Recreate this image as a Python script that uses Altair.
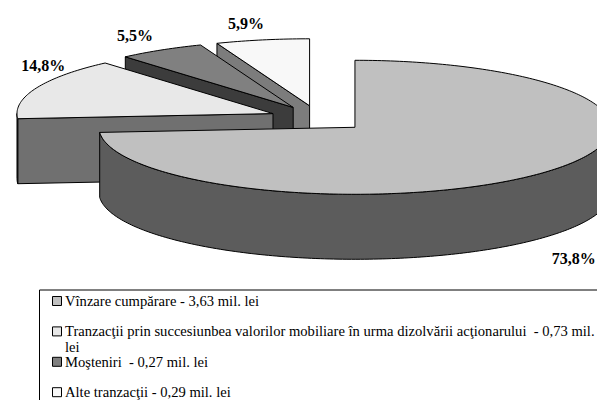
import math
import numpy as np
import pandas as pd
import altair as alt

# ---------------- data ----------------
categories = [
    "Vînzare cumpărare",
    "Tranzacţii prin succesiunbea valorilor mobiliare în urma dizolvării acţionarului",
    "Moşteniri",
    "Alte tranzacţii",
]
values_mil_lei = [3.63, 0.73, 0.27, 0.29]
legend_labels = [
    "Vînzare cumpărare - 3,63 mil. lei",
    "Tranzacţii prin succesiunbea valorilor mobiliare în urma dizolvării acţionarului \u00a0- 0,73 mil.\nlei",
    "Moşteniri \u00a0- 0,27 mil. lei",
    "Alte tranzacţii - 0,29 mil. lei",
]

# ---------------- style ----------------
top_colors = ["#c0c0c0", "#e8e8e8", "#808080", "#f8f8f8"]
side_colors = ["#5c5c5c", "#707070", "#3c3c3c", "#7c7c7c"]
CX, CY = 318.7, 118.5      # pie centre (pixels)
RX, RY = 256.0, 67.0       # ellipse radii
DEPTH = 65.0               # thickness of the pie
EXPLODE = 0.193            # explosion as a fraction of the radius
label_nudge = [(31.0, 21.0), (7.0, -22.0), (-26.0, -14.0), (-16.5, -16.0)]
FONT = "'Liberation Serif', 'Times New Roman', Tinos, 'DejaVu Serif', serif"

W, H = 589, 392

# ---------------- geometry ----------------
total = sum(values_mil_lei)
fracs = [v / total for v in values_mil_lei]
starts, ends = [], []
acc = 0.0
for f in fracs:
    starts.append(acc * 360.0)
    acc += f
    ends.append(acc * 360.0)
mids = [(a + b) / 2 for a, b in zip(starts, ends)]


def pt(c, deg, dy=0.0):
    t = math.radians(deg)
    return (c[0] + RX * math.sin(t), c[1] - RY * math.cos(t) + dy)


def arc(c, a, b, dy=0.0):
    n = max(2, int(math.ceil(abs(b - a))) + 1)
    return [pt(c, d, dy) for d in np.linspace(a, b, n)]


pieces = []  # (id, fill, points)
order = sorted(range(len(values_mil_lei)), key=lambda k: -math.cos(math.radians(mids[k])))
label_rows = []
for k in order:
    t1, t2, tm = starts[k], ends[k], mids[k]
    c = (CX + EXPLODE * RX * math.sin(math.radians(tm)),
         CY - EXPLODE * RY * math.cos(math.radians(tm)))
    cd = (c[0], c[1] + DEPTH)
    # radial faces
    if math.cos(math.radians(t1 - 90)) < -1e-6:
        p, pd_ = pt(c, t1), pt(c, t1, DEPTH)
        pieces.append((f"s{k}_start", side_colors[k], [c, p, pd_, cd, c]))
    if math.cos(math.radians(t2 + 90)) < -1e-6:
        p, pd_ = pt(c, t2), pt(c, t2, DEPTH)
        pieces.append((f"s{k}_end", side_colors[k], [c, p, pd_, cd, c]))
    # outer wall (front half only)
    a, b = max(t1, 90.0), min(t2, 270.0)
    if b > a:
        wall = arc(c, a, b) + arc(c, b, a, DEPTH)
        wall.append(wall[0])
        pieces.append((f"s{k}_wall", side_colors[k], wall))
    # top face
    top = [c] + arc(c, t1, t2) + [c]
    pieces.append((f"s{k}_top", top_colors[k], top))
    # percentage label
    ox, oy = pt(c, tm)
    if math.cos(math.radians(tm)) < 0:
        oy += DEPTH
    label_rows.append({
        "x": ox + label_nudge[k][0],
        "y": oy + label_nudge[k][1],
        "text": f"{fracs[k] * 100:.1f}".replace(".", ",") + "%",
    })

xs = alt.Scale(domain=[8, 8 + W], nice=False, zero=False)
ys = alt.Scale(domain=[8, 8 + H], nice=False, zero=False, reverse=True)

layers = []
for pid, color, pts in pieces:
    df = pd.DataFrame({"i": list(range(len(pts))),
                       "x": [p[0] for p in pts],
                       "y": [p[1] for p in pts]})
    layers.append(
        alt.Chart(df).mark_line(fill=color, stroke="black", strokeWidth=1,
                                strokeJoin="round", clip=True).encode(
            x=alt.X("x:Q", scale=xs, axis=None),
            y=alt.Y("y:Q", scale=ys, axis=None),
            order="i:Q",
        )
    )

labels = alt.Chart(pd.DataFrame(label_rows)).mark_text(
    font=FONT, fontSize=16, fontWeight="bold", color="black"
).encode(
    x=alt.X("x:Q", scale=xs, axis=None),
    y=alt.Y("y:Q", scale=ys, axis=None),
    text="text:N",
)

# ---------------- legend ----------------
LEG_Y0, LEG_STEP = 301.0, 30.4
leg_df = pd.DataFrame({
    "cat": categories,
    "label": legend_labels,
    "row": list(range(len(categories))),
})
leg_base = alt.Chart(leg_df).transform_calculate(
    yc=f"{LEG_Y0} + datum.row * {LEG_STEP}",
    yb=f"{LEG_Y0} + 5 + datum.row * {LEG_STEP}",
)
leg_squares = leg_base.mark_square(size=81, stroke="black", strokeWidth=1, opacity=1).encode(
    x=alt.X("sx:Q", scale=xs, axis=None),
    y=alt.Y("yc:Q", scale=ys, axis=None),
    fill=alt.Fill("cat:N", scale=alt.Scale(domain=categories, range=top_colors), legend=None),
).transform_calculate(sx="57")
leg_text = leg_base.mark_text(
    font=FONT, fontSize=14.6, color="black", align="left", baseline="alphabetic",
    lineBreak="\n", lineHeight=16,
).encode(
    x=alt.X("tx:Q", scale=xs, axis=None),
    y=alt.Y("yb:Q", scale=ys, axis=None),
    text="label:N",
).transform_calculate(tx="65")
leg_frame = alt.Chart(pd.DataFrame({"a": [0]})).mark_rect(
    fill=None, stroke="black", strokeWidth=1
).encode(
    x=alt.value(31.5), x2=alt.value(700), y=alt.value(282), y2=alt.value(500)
)

chart = alt.layer(*layers, labels, leg_frame, leg_squares, leg_text).properties(
    width=W, height=H, padding=0, autosize="none",
    background="white",
).configure_view(stroke=None)

chart.save("out.html", embed_options={"renderer": "svg", "actions": False})
